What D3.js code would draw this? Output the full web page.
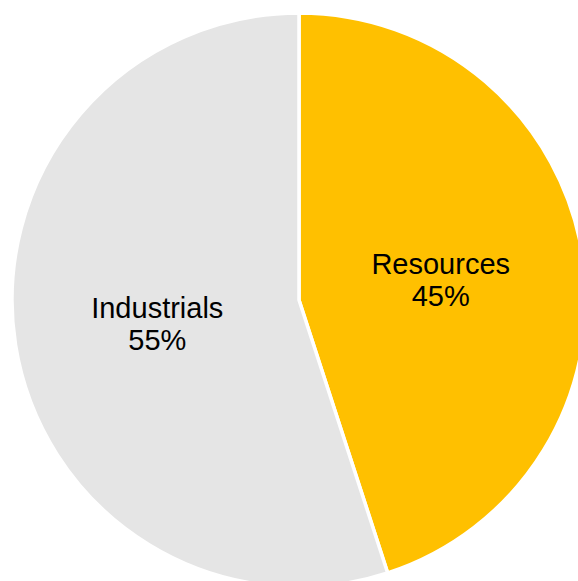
<!DOCTYPE html>
<html>
<head>
<meta charset="utf-8">
<script src="https://cdn.jsdelivr.net/npm/d3@7/dist/d3.min.js"></script>
<style>
  html, body { margin: 0; padding: 0; background: #ffffff; }
  svg { display: block; }
</style>
</head>
<body>
<svg id="chart" width="578" height="581"></svg>
<script>
const categories = ["Resources", "Industrials"];
const values = [45, 55];
const labels = ["45%", "55%"];
const colors = ["#FFC000", "#E5E5E5"];

const width = 578, height = 581;
const cx = 299, cy = 300, R = 287;

const svg = d3.select("#chart");
const g = svg.append("g").attr("transform", `translate(${cx},${cy})`);

const data = categories.map((c, i) => ({ name: c, value: values[i], label: labels[i], color: colors[i] }));

const pie = d3.pie().value(d => d.value).sort(null);
const arc = d3.arc().innerRadius(0).outerRadius(R);
const arcs = pie(data);

g.selectAll("path.slice")
  .data(arcs)
  .join("path")
  .attr("class", "slice")
  .attr("d", arc)
  .attr("fill", d => d.data.color)
  .attr("stroke", "#ffffff")
  .attr("stroke-width", 3.5)
  .attr("stroke-linejoin", "round");

const txt = g.selectAll("text.lbl")
  .data(arcs)
  .join("text")
  .attr("class", "lbl")
  .attr("text-anchor", "middle")
  .attr("font-family", "Liberation Sans, Arial, sans-serif")
  .attr("font-size", 29)
  .attr("fill", "#000000")
  .attr("transform", d => { const c = arc.centroid(d); return `translate(${c[0]},${c[1]})`; });

txt.append("tspan").attr("x", 0).attr("y", -4).text(d => d.data.name);
txt.append("tspan").attr("x", 0).attr("y", 28).text(d => d.data.label);
</script>
</body>
</html>
